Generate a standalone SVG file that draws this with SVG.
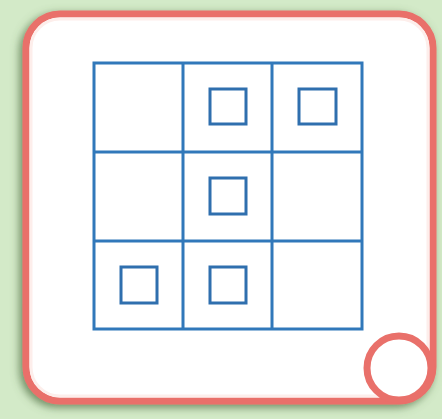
<svg xmlns="http://www.w3.org/2000/svg" width="442" height="419" viewBox="0 0 442 419">
<defs>
<filter id="sh" x="-10%" y="-10%" width="120%" height="120%">
<feGaussianBlur in="SourceAlpha" stdDeviation="4"/>
<feOffset dx="-3" dy="3" result="b"/>
<feFlood flood-color="#4f6e42" flood-opacity="0.75"/>
<feComposite in2="b" operator="in"/>
<feMerge><feMergeNode/><feMergeNode in="SourceGraphic"/></feMerge>
</filter>
<style>
.grid{fill:none;stroke:#3178ba;stroke-width:3}
.sq{fill:none;stroke:#2f6fae;stroke-width:3}
.red{stroke:#e9706a;stroke-width:7}
</style>
</defs>
<rect x="0" y="0" width="442" height="419" fill="#d3eac8"/>
<g id="card">
<rect x="26" y="14" width="407" height="387" rx="34" fill="#ffffff" class="red" filter="url(#sh)"/>
<rect x="31" y="19" width="397" height="377" rx="29" fill="none" stroke="#fdeeeb" stroke-width="3"/>
</g>
<g id="corner-circle">
<circle cx="399" cy="368" r="32" fill="#ffffff" class="red"/>
</g>
<g id="grid">
<rect x="94" y="63" width="268" height="266" class="grid"/>
<line x1="183" y1="63" x2="183" y2="329" class="grid"/>
<line x1="272" y1="63" x2="272" y2="329" class="grid"/>
<line x1="94" y1="152" x2="362" y2="152" class="grid"/>
<line x1="94" y1="241" x2="362" y2="241" class="grid"/>
</g>
<g id="squares">
<rect id="sq-r1c2" x="210" y="89" width="36" height="35" class="sq"/>
<rect id="sq-r1c3" x="299" y="89" width="37" height="35" class="sq"/>
<rect id="sq-r2c2" x="210" y="178" width="36" height="36" class="sq"/>
<rect id="sq-r3c1" x="121" y="267" width="36" height="36" class="sq"/>
<rect id="sq-r3c2" x="210" y="267" width="36" height="36" class="sq"/>
</g>
<g id="connectors"/>
</svg>
